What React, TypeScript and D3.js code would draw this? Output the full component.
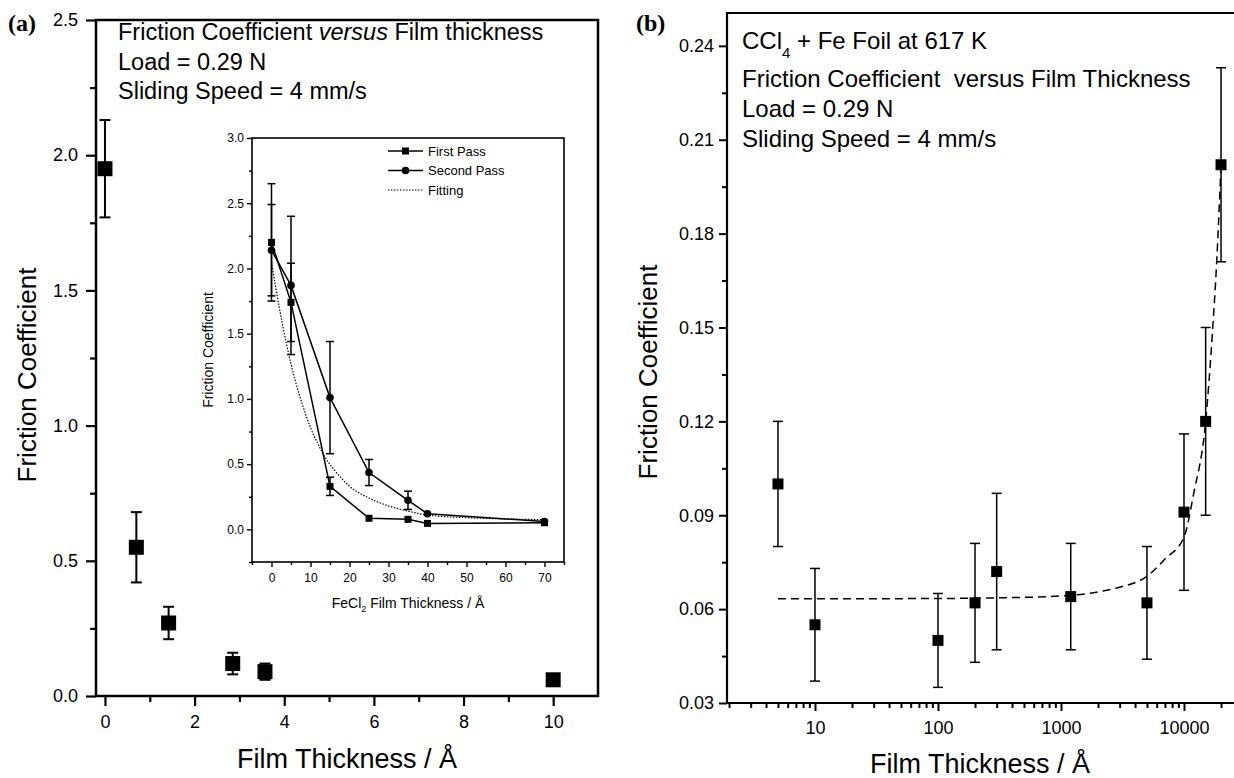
import React, { useEffect, useRef } from 'react'
import * as d3 from 'd3'

const FONT = 'Liberation Sans, Arial, Helvetica, sans-serif'
const SERIF = 'Liberation Serif, Times New Roman, serif'

// (a) main plot: friction coefficient vs film thickness
const thicknessA = [0, 0.7, 1.42, 2.85, 3.57, 10]
const frictionA = [1.95, 0.55, 0.27, 0.12, 0.09, 0.06]
const errorA = [0.18, 0.13, 0.06, 0.04, 0.03, 0.01]
const xTicksA = [0, 2, 4, 6, 8, 10]
const xMinorA = [1, 3, 5, 7, 9]
const yTicksA = [0, 0.5, 1, 1.5, 2, 2.5]
const yMinorA = [0.25, 0.75, 1.25, 1.75, 2.25]

// (a) inset: FeCl2 film, first / second pass and fitting
const insetThickness = [0, 5, 15, 25, 35, 40, 70]
const firstPass = [2.2, 1.74, 0.33, 0.085, 0.077, 0.046, 0.051]
const firstPassErr = [0.45, 0.3, 0.07, 0, 0, 0, 0]
const secondPass = [2.14, 1.87, 1.01, 0.436, 0.223, 0.12, 0.06]
const secondPassErr = [0.35, 0.53, 0.43, 0.1, 0.07, 0, 0]
const fitThickness = [0, 2, 4, 6, 8, 10, 12, 14, 16, 20, 25, 30, 35, 40, 50, 60, 70]
const fitFriction = [2.05, 1.7, 1.4, 1.15, 0.95, 0.78, 0.65, 0.54, 0.46, 0.33, 0.24, 0.18, 0.14, 0.11, 0.09, 0.08, 0.075]
const legendLabels = ['First Pass', 'Second Pass', 'Fitting']
const xTicksInset = [0, 10, 20, 30, 40, 50, 60, 70]
const xMinorInset = [-5, 5, 15, 25, 35, 45, 55, 65, 75]
const yTicksInset = [0, 0.5, 1, 1.5, 2, 2.5, 3]
const yMinorInset = [-0.25, 0.25, 0.75, 1.25, 1.75, 2.25, 2.75]

// (b) CCl4 + Fe foil at 617 K, log thickness axis
const thicknessB = [5, 10, 100, 200, 300, 1200, 5000, 10000, 15000, 20000]
const frictionB = [0.1, 0.055, 0.05, 0.062, 0.072, 0.064, 0.062, 0.091, 0.12, 0.202]
const errorB = [0.02, 0.018, 0.015, 0.019, 0.025, 0.017, 0.018, 0.025, 0.03, 0.031]
const fitThicknessB = [5, 10, 100, 300, 1000, 2000, 3000, 5000, 7000, 10000, 12000, 15000, 17000, 18500, 20000]
const fitFrictionB = [0.0633, 0.0633, 0.0634, 0.0636, 0.0642, 0.0655, 0.067, 0.0705, 0.076, 0.083, 0.097, 0.12, 0.148, 0.172, 0.202]
const xTicksB = [10, 100, 1000, 10000]
const yTicksB = [0.03, 0.06, 0.09, 0.12, 0.15, 0.18, 0.21, 0.24]
const yMinorB = [0.045, 0.075, 0.105, 0.135, 0.165, 0.195, 0.225]

function addAxes (g, x, y, o) {
  let x0 = x.range()[0]
  let y0 = y.range()[0]
  let bottom = g.append('g').attr('transform', 'translate(0,' + y0 + ')')
  bottom.append('g')
    .call(d3.axisBottom(x).tickValues(o.xTicks).tickFormat(o.xFormat).tickSize(o.major).tickPadding(o.xPad))
  bottom.append('g')
    .call(d3.axisBottom(x).tickValues(o.xMinor).tickFormat(() => '').tickSize(o.minor))
  let left = g.append('g').attr('transform', 'translate(' + x0 + ',0)')
  left.append('g')
    .call(d3.axisLeft(y).tickValues(o.yTicks).tickFormat(o.yFormat).tickSize(o.major).tickPadding(o.yPad))
  left.append('g')
    .call(d3.axisLeft(y).tickValues(o.yMinor).tickFormat(() => '').tickSize(o.minor))
  g.selectAll('.domain').remove()
  g.selectAll('.tick line').attr('stroke', '#000').attr('stroke-width', o.width)
  g.selectAll('.tick text')
    .attr('fill', '#000')
    .attr('font-family', FONT)
    .attr('font-size', o.fontSize)
}

function errorBars (g, xs, ys, es, x, y, cap, width) {
  let data = xs.map((d, i) => ({ x: d, y: ys[i], e: es[i] })).filter((d) => d.e > 0)
  let eb = g.append('g').attr('stroke', '#000').attr('stroke-width', width)
  eb.selectAll('.bar')
      .data(data)
    .enter().append('line')
      .attr('x1', (d) => x(d.x))
      .attr('x2', (d) => x(d.x))
      .attr('y1', (d) => y(d.y - d.e))
      .attr('y2', (d) => y(d.y + d.e))
  let caps = data.flatMap((d) => [{ x: d.x, y: d.y - d.e }, { x: d.x, y: d.y + d.e }])
  eb.selectAll('.cap')
      .data(caps)
    .enter().append('line')
      .attr('x1', (d) => x(d.x) - cap / 2)
      .attr('x2', (d) => x(d.x) + cap / 2)
      .attr('y1', (d) => y(d.y))
      .attr('y2', (d) => y(d.y))
}

function squares (g, xs, ys, x, y, size) {
  g.append('g').selectAll('rect')
      .data(xs.map((d, i) => [d, ys[i]]))
    .enter().append('rect')
      .attr('x', (d) => x(d[0]) - size / 2)
      .attr('y', (d) => y(d[1]) - size / 2)
      .attr('width', size)
      .attr('height', size)
      .attr('fill', '#000')
}

function label (g, x, y, text, size, opts = {}) {
  let t = g.append('text')
    .attr('x', x)
    .attr('y', y)
    .attr('font-family', opts.family || FONT)
    .attr('font-size', size)
    .attr('fill', '#000')
    .style('white-space', 'pre')
    .text(text)
  if (opts.anchor) t.attr('text-anchor', opts.anchor)
  if (opts.weight) t.attr('font-weight', opts.weight)
  if (opts.rotate) t.attr('transform', 'rotate(-90,' + x + ',' + y + ')')
  return t
}

function drawPanelA (svg) {
  let g = svg.append('g')
  let x = d3.scaleLinear().domain([-0.2, 11]).range([96, 598])
  let y = d3.scaleLinear().domain([0, 2.5]).range([696, 20])

  addAxes(g, x, y, {
    xTicks: xTicksA, xMinor: xMinorA, yTicks: yTicksA, yMinor: yMinorA,
    xFormat: d3.format('d'), yFormat: d3.format('.1f'),
    major: 10, minor: 6, xPad: 9, yPad: 8, width: 2.2, fontSize: 18
  })
  g.append('rect')
    .attr('x', 96).attr('y', 20).attr('width', 598 - 96).attr('height', 696 - 20)
    .attr('fill', 'none').attr('stroke', '#000').attr('stroke-width', 2.5)

  errorBars(g, thicknessA, frictionA, errorA, x, y, 11, 2)
  squares(g, thicknessA, frictionA, x, y, 15)

  let title = label(g, 118, 40, 'Friction Coefficient ', 23.5)
  title.append('tspan').attr('font-style', 'italic').text('versus')
  title.append('tspan').text(' Film thickness')
  label(g, 118, 70, 'Load = 0.29 N', 23.5)
  label(g, 118, 99, 'Sliding Speed = 4 mm/s', 23.5)

  label(g, 8, 31, '(a)', 24, { family: SERIF, weight: 'bold' })
  label(g, 36, 375, 'Friction Coefficient', 26, { anchor: 'middle', rotate: true })
  label(g, 347, 768, 'Film Thickness / Å', 27, { anchor: 'middle' })
}

function drawInset (svg) {
  let g = svg.append('g')
  let x = d3.scaleLinear().domain([-5, 75]).range([252, 564])
  let y = d3.scaleLinear().domain([-0.25, 3]).range([562, 138])

  g.append('rect')
    .attr('x', 252).attr('y', 138).attr('width', 564 - 252).attr('height', 562 - 138)
    .attr('fill', '#fff').attr('stroke', '#000').attr('stroke-width', 1.6)
  addAxes(g, x, y, {
    xTicks: xTicksInset, xMinor: xMinorInset, yTicks: yTicksInset, yMinor: yMinorInset,
    xFormat: d3.format('d'), yFormat: d3.format('.1f'),
    major: 5, minor: 3, xPad: 6, yPad: 3, width: 1.4, fontSize: 12
  })

  let line = d3.line().x((d) => x(d[0])).y((d) => y(d[1]))
  let fitLine = d3.line().x((d) => x(d[0])).y((d) => y(d[1])).curve(d3.curveMonotoneX)

  g.append('path')
    .attr('d', fitLine(fitThickness.map((d, i) => [d, fitFriction[i]])))
    .attr('fill', 'none').attr('stroke', '#000').attr('stroke-width', 1.2).attr('stroke-dasharray', '1.5,1.5')
  g.append('path')
    .attr('d', line(insetThickness.map((d, i) => [d, firstPass[i]])))
    .attr('fill', 'none').attr('stroke', '#000').attr('stroke-width', 1.5)
  g.append('path')
    .attr('d', line(insetThickness.map((d, i) => [d, secondPass[i]])))
    .attr('fill', 'none').attr('stroke', '#000').attr('stroke-width', 1.5)

  errorBars(g, insetThickness, firstPass, firstPassErr, x, y, 8, 1.5)
  errorBars(g, insetThickness, secondPass, secondPassErr, x, y, 8, 1.5)
  squares(g, insetThickness, firstPass, x, y, 7)
  g.append('g').selectAll('circle')
      .data(insetThickness.map((d, i) => [d, secondPass[i]]))
    .enter().append('circle')
      .attr('cx', (d) => x(d[0]))
      .attr('cy', (d) => y(d[1]))
      .attr('r', 3.8)
      .attr('fill', '#000')

  // legend
  let legend = g.append('g')
  legendLabels.forEach((name, i) => {
    let ly = 151 + i * 19.5
    let row = legend.append('g')
    row.append('line')
      .attr('x1', 388).attr('x2', 423).attr('y1', ly).attr('y2', ly)
      .attr('stroke', '#000')
      .attr('stroke-width', i === 2 ? 1.2 : 1.5)
      .attr('stroke-dasharray', i === 2 ? '1.5,1.5' : null)
    if (i === 0) row.append('rect').attr('x', 402).attr('y', ly - 3.5).attr('width', 7).attr('height', 7)
    if (i === 1) row.append('circle').attr('cx', 405.5).attr('cy', ly).attr('r', 3.8)
    label(row, 428, ly + 4.5, name, 13)
  })

  label(g, 213, 350, 'Friction Coefficient', 14, { anchor: 'middle', rotate: true })
  let xt = label(g, 408, 608, 'FeCl', 14, { anchor: 'middle' })
  xt.append('tspan').attr('font-size', 9).attr('dy', 4).text('2')
  xt.append('tspan').attr('dy', -4).text(' Film Thickness / Å')
}

function drawPanelB (svg) {
  let g = svg.append('g')
  let x = d3.scaleLog().domain([1.926, 25500]).range([727, 1234])
  let y = d3.scaleLinear().domain([0.03, 0.2505]).range([703, 13])
  let xMinorB = x.ticks().filter((t) => xTicksB.indexOf(t) < 0 && t > x.domain()[0])

  addAxes(g, x, y, {
    xTicks: xTicksB, xMinor: xMinorB, yTicks: yTicksB, yMinor: yMinorB,
    xFormat: d3.format('d'), yFormat: d3.format('.2f'),
    major: 8, minor: 5, xPad: 10, yPad: 5, width: 2, fontSize: 18
  })
  g.append('path')
    .attr('d', 'M1240,13H727V703H1240')
    .attr('fill', 'none').attr('stroke', '#000').attr('stroke-width', 2.2)

  let fitLine = d3.line().x((d) => x(d[0])).y((d) => y(d[1])).curve(d3.curveMonotoneX)
  g.append('path')
    .attr('d', fitLine(fitThicknessB.map((d, i) => [d, fitFrictionB[i]])))
    .attr('fill', 'none').attr('stroke', '#000').attr('stroke-width', 1.5).attr('stroke-dasharray', '8,5')

  errorBars(g, thicknessB, frictionB, errorB, x, y, 10, 1.5)
  squares(g, thicknessB, frictionB, x, y, 11)

  let head = label(g, 742, 49, 'CCl', 24)
  head.append('tspan').attr('font-size', 15).attr('dy', 9).text('4')
  head.append('tspan').attr('dy', -9).text(' + Fe Foil at 617 K')
  label(g, 742, 87, 'Friction Coefficient  versus Film Thickness', 24)
  label(g, 742, 117, 'Load = 0.29 N', 24)
  label(g, 742, 147, 'Sliding Speed = 4 mm/s', 24)

  label(g, 636, 31, '(b)', 24, { family: SERIF, weight: 'bold' })
  label(g, 657, 372, 'Friction Coefficient', 26, { anchor: 'middle', rotate: true })
  label(g, 980, 773, 'Film Thickness / Å', 27, { anchor: 'middle' })
}

export default function App () {
  const ref = useRef(null)

  useEffect(() => {
    let svg = d3.select(ref.current)
    svg.selectAll('*').remove()
    drawPanelA(svg)
    drawInset(svg)
    drawPanelB(svg)
  }, [])

  return (
    <svg
      ref={ref}
      width={1234}
      height={778}
      style={{ position: 'absolute', left: 0, top: 0, background: '#fff' }}
    />
  )
}
